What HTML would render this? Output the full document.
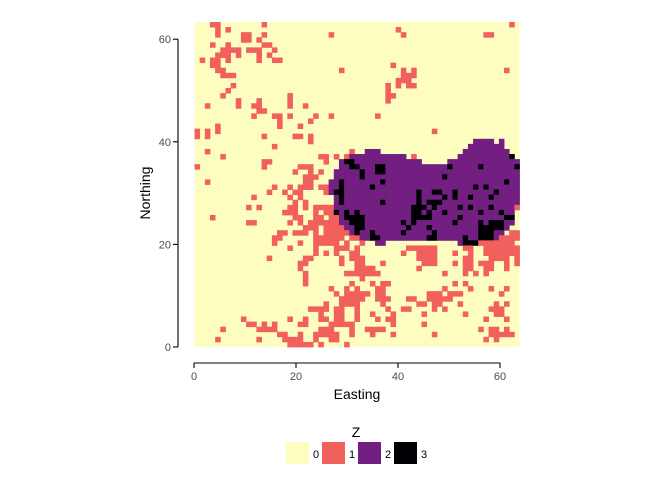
<!DOCTYPE html>
<html><head><meta charset="utf-8"><style>
body{margin:0;background:#fff;}
svg{display:block;font-family:"Liberation Sans",sans-serif;}
</style></head><body>
<svg id="chart" width="672" height="480">
<g id="cells"></g>
<g id="axes"></g>
<g id="legend"></g>
</svg>
<script>
const xTicks = [0, 20, 40, 60];
const yTicks = [0, 20, 40, 60];
const levels = ["0", "1", "2", "3"];
const nCols = 63;
const zRows = [
"3-4=1 13=1 61=1",
"4=1 6=1 39=1",
"4=1 9-10=1 13=1 26=1 40=1 56-57=1",
"9-10=1 12=1",
"3=1 6=1 13-14=1",
"5-8=1 10-12=1 15=1",
"4-6=1 8=1 12=1 14=1",
"1=1 3-4=1 6=1 12=1 15-16=1",
"3=1 4=1 38=1",
"4-5=1 28=1 40=1 42=1 60=1",
"5-7=1 40-42=1",
"39-41=1",
"7=1 37=1 39=1 41-42=1",
"6=1 37=1",
"5=1 18=1 37-38=1",
"8=1 12=1 18=1 37=1",
"2=1 8=1 11-12=1 18=1 21=1",
"12-13=1",
"11=1 15-16=1 18=1 23=1 26=1 35=1",
"16=1 22=1",
"4=1 16=1 20=1",
"0=1 2=1 4=1 46=1",
"0=1 2=1 13=1 19-20=1 22=1",
"22=1 54-57=2 59=2",
"15=1 53-59=2",
"2=1 30=1 33-35=2 52-60=2",
"5=1 24-25=1 27=1 29=1 30-40=2 42=1 51-60=2 61=3",
"13-14=1 25=1 28=2 29-30=3 31-43=2 49-62=2",
"0=1 13=1 20-22=1 28-62=2 30-31=3 35-36=3 49=3 55=3 62=3",
"19=1 22=1 24=1 27-62=2 32=3 35-36=3",
"21-23=1 27-62=2 32=3 48=3",
"2=1 21-22=1 26-62=2 28=3 36=3 60=3",
"15=1 18=1 20-22=1 24-25=1 26-62=2 28=3 34=3 54=3 56=3",
"14=1 17=1 19-20=1 25=1 26-62=2 27-28=3 43=3 46-47=3 50=3 58=3",
"11=1 18=1 20=1 27-62=2 28=3 43=3 48=3 50=3 53=3 57=3",
"19=1 21=1 27-62=2 28=3 36=3 43=3 45-47=3",
"10=1 12=1 18-19=1 21=1 23-26=1 27-61=2 62=1 42-44=3 46=3 51=3 53=3 57=3",
"17-19=1 23=1 25-26=1 27=3 28=2 29=3 30=2 31=3 32-61=2 42-43=3 45=3 48=3 55=3 59=3",
"3=1 19-20=1 23-24=1 26-27=1 28=2 29-30=3 31-32=3 33-61=2 42-45=3 51=3 60-61=3",
"10-11=1 18=1 20=1 22-27=1 28-29=2 30-32=3 33-61=2 40=3 42=3 50=3 55=3 57-59=3",
"21-23=1 25-28=1 29-30=2 31-32=3 33-60=2 41=3 45=3 55-59=3",
"16-17=1 19-21=1 23=1 25-29=1 30=2 31=3 32-59=2 34=3 40=3 46=3 55-57=3 61-62=1",
"15-16=1 23-28=1 30-31=1 32-58=2 34-35=3 45-46=3 52=3 55-57=3 59-62=1",
"15=1 20=1 23-27=1 29=1 32=1 35-36=2 51=2 52-54=3 55-61=1",
"18=1 23=1 27-29=1 31=1 41-46=1 52-53=1 56-62=1",
"23=1 25=1 27=1 30-31=1 40=1 43-46=1 50=1 53=1 56-62=1",
"14=1 21-22=1 28=1 30-32=1 43-46=1 52-53=1 57-60=1 62=1",
"20-21=1 28=1 31-32=1 36=1 44-46=1 50=1 52-53=1 55-57=1 60=1 62=1",
"20=1 31-34=1 43=1 52-53=1 56-57=1 60=1",
"21=1 29-35=1 48=1 52=1 54=1 56=1",
"21=1 32=1",
"21=1 30=1 34=1 36-37=1 50=1 52=1",
"26=1 29=1 31=1 35-36=1 48=1 53=1 57=1 60=1",
"27=1 29-33=1 35-36=1 45-47=1 49-51=1 59=1",
"28-32=1 35-37=1 41-42=1 45-49=1",
"25=1 28-31=1 36=1 43-44=1 46-47=1 51=1 58=1 60=1",
"22-25=1 27-28=1 31=1 37=1 40-41=1 46=1 48=1 57-59=1",
"24=1 27-28=1 31=1 34=1 38=1 44=1 52=1 58-59=1",
"9=1 18=1 21=1 24-25=1 27-28=1 31=1 35=1 37-38=1 56=1 60=1",
"10-11=1 13=1 15=1 20-21=1 26-30=1 38=1 44=1",
"5=1 12-15=1 24-26=1 30=1 33-36=1 55=1 57-58=1 60=1",
"16-17=1 20=1 23-27=1 30=1 34=1 38=1 46=1 57-61=1",
"4=1 12=1 17-20=1 23=1 26-27=1 56=1 58=1",
"18-22=1 24=1 29=1"
];
</script>
<script>
const NS = "http://www.w3.org/2000/svg";
const palette = ["#FCFDBF", "#F1605D", "#721F81", "#000004"];
const px0 = 194.5, px1 = 519.5, py0 = 22, py1 = 347;
const nRows = zRows.length;
const cw = (px1 - px0) / nCols, ch = (py1 - py0) / nRows;
function xPix(col){ return px0 + col * cw; }
function yPix(row){ return py0 + row * ch; }
function xAxis(v){ return 194 + v * 5.1; }
function yAxis(v){ return 347 - v * 5.13; }
function mk(tag, attrs, parent){
  const e = document.createElementNS(NS, tag);
  for (const k in attrs) e.setAttribute(k, attrs[k]);
  parent.appendChild(e); return e;
}
const grid = zRows.map(() => new Array(nCols).fill(0));
zRows.forEach((s, r) => {
  s.split(" ").filter(Boolean).forEach(seg => {
    const [rng, v] = seg.split("=");
    const p = rng.split("-").map(Number);
    const a = p[0], b = p.length > 1 ? p[1] : p[0];
    for (let c = a; c <= b && c < nCols; c++) grid[r][c] = +v;
  });
});
const cells = document.getElementById("cells");
const bg = mk("rect", {x: px0, y: py0, width: px1 - px0, height: py1 - py0, fill: palette[0]}, cells);


grid.forEach((row, r) => row.forEach((v, c) => {
  if (v === 0) return;
  const rc = mk("rect", {x: xPix(c).toFixed(2), y: yPix(r).toFixed(2), width: (cw + 0.4).toFixed(2), height: (ch + 0.4).toFixed(2), fill: palette[v]}, cells);
  
  
}));
const axes = document.getElementById("axes");
const yl = mk("line", {x1: 178, x2: 178, y1: yAxis(60), y2: yAxis(0), stroke: "#000", "stroke-width": 1.1}, axes);


const xl = mk("line", {x1: xAxis(0), x2: xAxis(60), y1: 363, y2: 363, stroke: "#000", "stroke-width": 1.1}, axes);


yTicks.forEach(t => {
  const tk = mk("line", {x1: 173, x2: 178, y1: yAxis(t), y2: yAxis(t), stroke: "#000", "stroke-width": 1.1}, axes);
  
  
  const lb = mk("text", {x: 171, y: yAxis(t) + 4, "text-anchor": "end", "font-size": 11, fill: "#4d4d4d"}, axes);
  lb.textContent = t;
  
  
});
xTicks.forEach(t => {
  const tk = mk("line", {x1: xAxis(t), x2: xAxis(t), y1: 363, y2: 368, stroke: "#000", "stroke-width": 1.1}, axes);
  
  
  const lb = mk("text", {x: xAxis(t), y: 380, "text-anchor": "middle", "font-size": 11, fill: "#4d4d4d"}, axes);
  lb.textContent = t;
  
  
});
const xt = mk("text", {x: 357, y: 399, "text-anchor": "middle", "font-size": 14, fill: "#000"}, axes);
xt.textContent = "Easting";


const yt = mk("text", {x: 150, y: 193, "text-anchor": "middle", "font-size": 14, fill: "#000", transform: "rotate(-90 150 193)"}, axes);
yt.textContent = "Northing";


const leg = document.getElementById("legend");
const lt = mk("text", {x: 356, y: 437, "text-anchor": "middle", "font-size": 14, fill: "#000"}, leg);
lt.textContent = "Z";


levels.forEach((lv, i) => {
  const kx = 286 + i * 36;
  const k = mk("rect", {x: kx, y: 442, width: 23, height: 22, fill: palette[i]}, leg);
  
  
  const l = mk("text", {x: kx + 27, y: 458, "font-size": 11, fill: "#000"}, leg);
  l.textContent = lv;
  
  
});
</script>
</body></html>
